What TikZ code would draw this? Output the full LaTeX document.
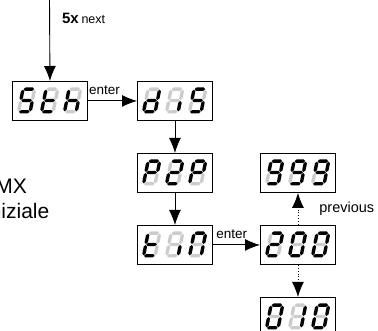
\documentclass[tikz,border=0pt]{standalone}
\usepackage{fontspec}
\setmainfont{Liberation Sans}
\usetikzlibrary{arrows.meta}
\definecolor{segoffcol}{gray}{0.80}
\tikzset{
  dispbox/.style={draw=black, line width=0.9pt, rectangle, minimum width=75pt, minimum height=39pt, inner sep=0pt, anchor=north west},
  arr/.style={-{Latex[length=15pt,width=12pt]}, line width=0.9pt},
  dotarr/.style={arr, dotted},
  segon/.style={fill=black},
  segoff/.style={fill=segoffcol},
  lbl/.style={font=\fontsize{13.5}{15}\selectfont, inner sep=1pt},
  bigtxt/.style={font=\fontsize{21}{23}\selectfont, inner sep=0pt, anchor=base east},
}
\newcommand\segfill[2]{\ifnum#1=1\relax\fill[segon] #2;\else\fill[segoff] #2;\fi}
% #1 x, #2 y (bottom-left, pixel coords), #3..#9 segments a..g
\newcommand\sevdigit[9]{%
\begin{scope}[shift={(#1,#2)},xslant=0.2,yscale=-1]
\segfill{#3}{(2.2,24.3)--(3.9,26)--(11.1,26)--(12.8,24.3)--(11.1,22.6)--(3.9,22.6)--cycle}
\segfill{#4}{(13.3,13.5)--(15,15.2)--(15,22.1)--(13.3,23.8)--(11.6,22.1)--(11.6,15.2)--cycle}
\segfill{#5}{(13.3,2.2)--(15,3.9)--(15,10.8)--(13.3,12.5)--(11.6,10.8)--(11.6,3.9)--cycle}
\segfill{#6}{(2.2,1.7)--(3.9,3.4)--(11.1,3.4)--(12.8,1.7)--(11.1,0)--(3.9,0)--cycle}
\segfill{#7}{(1.7,2.2)--(3.4,3.9)--(3.4,10.8)--(1.7,12.5)--(0,10.8)--(0,3.9)--cycle}
\segfill{#8}{(1.7,13.5)--(3.4,15.2)--(3.4,22.1)--(1.7,23.8)--(0,22.1)--(0,15.2)--cycle}
\segfill{#9}{(2.2,13)--(3.9,14.7)--(11.1,14.7)--(12.8,13)--(11.1,11.3)--(3.9,11.3)--cycle}
\end{scope}}
% glyphs
\newcommand\gS[2]{\sevdigit{#1}{#2}1011011}
\newcommand\gt[2]{\sevdigit{#1}{#2}0001111}
\newcommand\gh[2]{\sevdigit{#1}{#2}0010111}
\newcommand\gd[2]{\sevdigit{#1}{#2}0111101}
\newcommand\gi[2]{\sevdigit{#1}{#2}0010000}
\newcommand\gP[2]{\sevdigit{#1}{#2}1100111}
\newcommand\gtwo[2]{\sevdigit{#1}{#2}1101101}
\newcommand\gN[2]{\sevdigit{#1}{#2}1110110}
\newcommand\gnine[2]{\sevdigit{#1}{#2}1111011}
\newcommand\gzero[2]{\sevdigit{#1}{#2}1111110}
\newcommand\gone[2]{\sevdigit{#1}{#2}0110000}
% box contents: #1 X, #2 Y (top-left), #3 #4 #5 glyph macros
\newcommand\dispthree[5]{%
#3{\fpeval{#1+4.5}}{\fpeval{#2+32.5}}%
#4{\fpeval{#1+27.5}}{\fpeval{#2+32.5}}%
#5{\fpeval{#1+50.5}}{\fpeval{#2+32.5}}}
\begin{document}
\begin{tikzpicture}[x=1pt,y=-1pt]
\useasboundingbox (0,0) rectangle (378,331);
% boxes
\node[dispbox] (sth) at (12,81) {};
\node[dispbox] (dis) at (137,81) {};
\node[dispbox] (p2p) at (137,153) {};
\node[dispbox] (tin) at (137,225) {};
\node[dispbox] (n999) at (260,153) {};
\node[dispbox] (n200) at (260,225) {};
\node[dispbox] (n010) at (260,297) {};
% digits
\dispthree{12}{81}{\gS}{\gt}{\gh}
\dispthree{137}{81}{\gd}{\gi}{\gS}
\dispthree{137}{153}{\gP}{\gtwo}{\gP}
\dispthree{137}{225}{\gt}{\gi}{\gN}
\dispthree{260}{153}{\gnine}{\gnine}{\gnine}
\dispthree{260}{225}{\gtwo}{\gzero}{\gzero}
\dispthree{260}{297}{\gzero}{\gone}{\gzero}
% connectors
\coordinate (start) at (49.5,-2);
\draw[arr] (start) -- (sth.north)
  node[pos=0.25, anchor=west, xshift=12pt, inner sep=0pt] {{\fontsize{15}{16}\bfseries 5x} {\fontsize{12.5}{13}\selectfont next}};
\draw[arr] (sth.east) -- (dis.west) node[lbl, pos=0.34, above, yshift=5pt] {enter};
\draw[arr] (tin.east) -- (n200.west) node[lbl, pos=0.4, above, yshift=5pt] {enter};
\draw[arr] (dis.south) -- (p2p.north);
\draw[arr] (p2p.south) -- (tin.north);
\draw[dotarr] (n200.north) -- (n999.south) node[lbl, pos=0.5, anchor=west, xshift=20pt, font=\fontsize{14.5}{16}\selectfont] {previous};
\draw[dotarr] (n200.south) -- (n010.north);
% cut-off texts at left edge
\node[bigtxt] (dmx) at (27,194) {DMX};
\node[bigtxt] (iniz) at (49.5,219) {iniziale};
\end{tikzpicture}
\end{document}
